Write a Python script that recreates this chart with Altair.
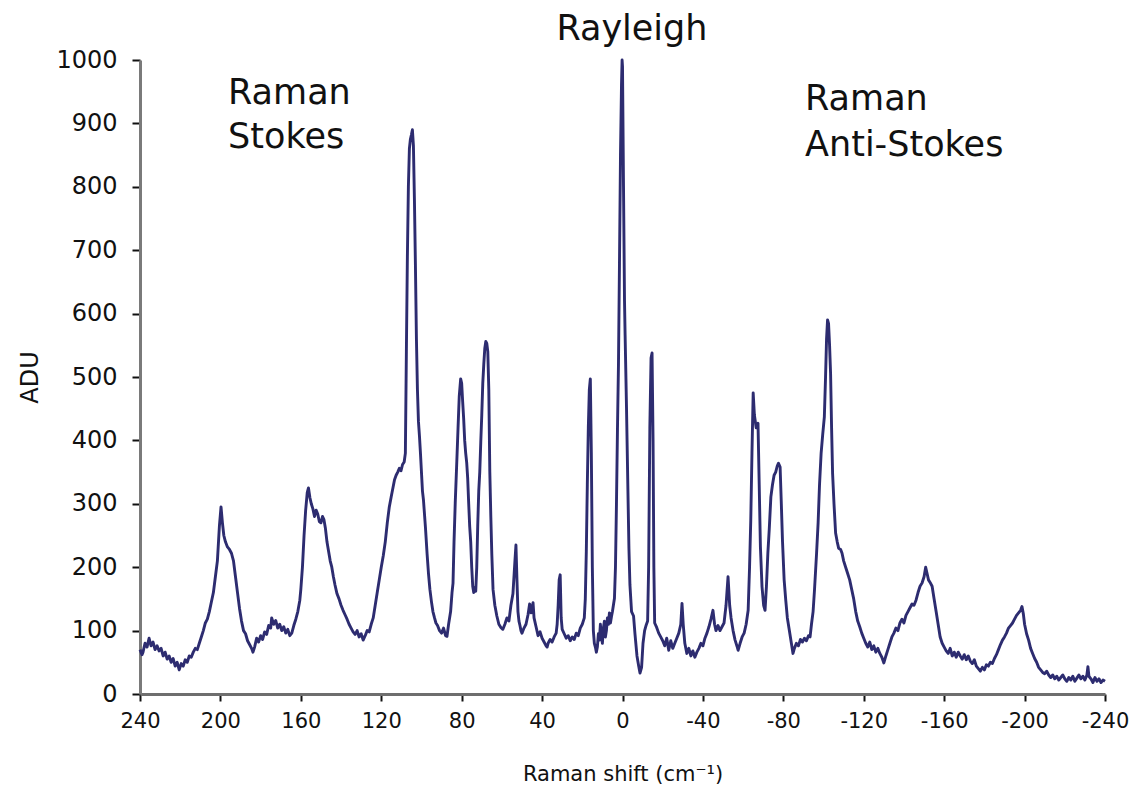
import altair as alt
import pandas as pd

# (Raman shift cm-1, ADU)
stokes_far = [
    (240, 70), (239, 62), (238.5, 66), (237.5, 80), (236.5, 74), (235.5, 88), (234.5, 76),
    (233.5, 82), (232.5, 70), (231.5, 76), (230.5, 68), (229.5, 72), (228.5, 60), (227.5, 66),
    (226.5, 55), (225.5, 60), (224.5, 50), (223.5, 56), (222.5, 44), (221.5, 50), (220.5, 38),
    (219.5, 48), (218.5, 44), (217.5, 54), (216.5, 50), (215.5, 60), (214.5, 58), (213.5, 66),
    (212.5, 72), (211.5, 70), (210.5, 80), (209.5, 90), (208.5, 100), (207.5, 112), (206.5, 118),
    (205.5, 130), (204.5, 145), (203.5, 160), (202.5, 185), (201.5, 210), (200.5, 265), (199.7, 295),
    (199, 270), (198.3, 250), (197.5, 240), (196.5, 232), (195.5, 228), (194.5, 222), (193.5, 210),
    (192.5, 185), (191.5, 160), (190.5, 135), (189.5, 115), (188.5, 100), (187.5, 95), (186.5, 84),
    (185.5, 78), (184.5, 72), (183.8, 66), (183, 74), (182, 88), (181, 82), (180, 92), (179, 86),
    (178, 98), (177, 94), (176, 108), (175, 104), (174.5, 120), (173.5, 110), (172.5, 116),
    (171.5, 104), (170.5, 110), (169.5, 100), (168.5, 106), (167.5, 96), (166.5, 102), (165.5, 92),
    (164.5, 96), (163.5, 108), (162.5, 118), (161.5, 130), (160.5, 148), (160, 165), (159.2, 200),
    (158.4, 250), (157.6, 290), (156.8, 318), (156.2, 325), (155.5, 310), (154.8, 300), (154, 292),
    (153.2, 280), (152.4, 290), (151.6, 284), (150.8, 272), (150, 270), (149.2, 280), (148.5, 275),
    (147.8, 262), (147, 240), (146.2, 225), (145.4, 210), (144.6, 200), (143.8, 185), (143, 172),
    (142, 158), (141, 150), (140, 140), (139, 132), (138, 125), (137, 118), (136, 110), (135, 104),
    (134, 98), (133, 94), (132, 100), (131, 90), (130, 95), (129, 85), (128, 92), (127, 100),
    (126, 98), (125, 110), (124, 120), (123, 140), (122, 160), (121, 180), (120, 200), (119, 218),
    (118, 240), (117, 270), (116, 295), (115, 312), (114.2, 325), (113.4, 338), (112.6, 345),
    (111.8, 350), (111, 356), (110.2, 352), (109.4, 362), (108.6, 366),
]

stokes_near = [
    (108, 380), (107.5, 540), (107, 690), (106.5, 800), (106, 860), (105.5, 875), (105, 882),
    (104.5, 890), (104, 865), (103.5, 780), (103, 676), (102.5, 560), (102, 480), (101.5, 430),
    (101, 407), (100.5, 380), (100, 350), (99.5, 320), (99, 306), (98, 262), (97.2, 221),
    (96.5, 190), (95.8, 165), (95, 145), (94.3, 130), (93.5, 120), (92.8, 112), (92, 108),
    (91, 100), (90, 96), (89, 104), (88, 92), (87.3, 91), (86.5, 110), (85.5, 130), (84.8, 160),
    (84.3, 175), (83.8, 240), (83.2, 301), (82.5, 360), (81.8, 420), (81.2, 470), (80.5, 497),
    (80, 490), (79.5, 461), (79, 434), (78.5, 400), (78, 380), (77.5, 365), (77, 340), (76.5, 300),
    (76, 264), (75.5, 240), (75, 200), (74.5, 170), (74, 160), (73.5, 168), (73, 162), (72.5, 200),
    (72, 267), (71.5, 320), (71, 350), (70.5, 397), (70, 440), (69.5, 490), (69, 520), (68.5, 545),
    (68, 556), (67.5, 553), (67, 540), (66.5, 480), (66, 350), (65.5, 280), (65, 220), (64.4, 165),
    (63.5, 140), (62.5, 123), (61.5, 110), (60.5, 105), (59.5, 102), (58.5, 110), (57.5, 120),
    (56.5, 115), (55.5, 140), (54.5, 158), (53.5, 210), (53, 235), (52.5, 180), (52, 130),
    (51.5, 115), (51, 108), (50.5, 100), (50, 96), (49, 104), (48, 110), (47, 125), (46.2, 142),
    (45.5, 128), (44.5, 144), (44, 120), (43, 106), (42, 92), (41, 98), (40, 88), (39, 82),
    (38, 76), (37.5, 74), (37, 80), (36, 86), (35, 82), (34, 90), (33, 96), (32.5, 110), (32, 140),
    (31.5, 180), (31, 188), (30.5, 120), (30, 102), (29, 95), (28, 88), (27, 92), (26, 84),
    (25, 90), (24, 86), (23, 96), (22, 92), (21, 104), (20, 110), (19, 120), (18.5, 150),
    (18, 225), (17.5, 330), (17, 420), (16.5, 480), (16, 497), (15.5, 380), (15, 200), (14.5, 100),
    (14, 80), (13.5, 74), (13, 66), (12.5, 74), (12, 95), (11.5, 85), (11, 110), (10.5, 92),
    (10, 80), (9.5, 104), (9, 115), (8.5, 90), (8, 100), (7.5, 120), (7, 110), (6.5, 128),
    (6, 112), (5.5, 122), (5, 130),
]

rayleigh = [
    (4, 151), (3.5, 200), (3, 300), (2.5, 418), (2, 520), (1.5, 680), (1, 850), (0.5, 960),
    (0.2, 1000), (0, 990), (-0.5, 800), (-1, 620), (-1.3, 566), (-2, 450), (-2.7, 320),
    (-3.2, 230), (-3.7, 172), (-4.5, 130), (-5.5, 123), (-6.2, 95), (-7.2, 60), (-8, 45),
    (-8.7, 33), (-9.5, 42), (-10.2, 80), (-11, 100), (-11.8, 109), (-12.5, 115),
]

anti_near = [
    (-13, 200), (-13.6, 420), (-14.2, 530), (-14.7, 538), (-15.2, 400), (-15.6, 200), (-16, 112),
    (-17, 105), (-18, 96), (-19, 90), (-20, 84), (-21, 76), (-22, 88), (-23, 69), (-24, 84),
    (-25, 72), (-26, 80), (-27, 88), (-28, 96), (-29, 110), (-29.6, 143), (-30.2, 110), (-31, 80),
    (-32, 64), (-33, 72), (-34, 60), (-35, 68), (-36, 58), (-37, 66), (-38, 72), (-39, 80),
    (-40, 76), (-41, 88), (-42, 96), (-43, 106), (-44, 118), (-45, 132), (-45.8, 110),
    (-46.5, 100), (-47.5, 108), (-48.5, 100), (-49.5, 106), (-50.5, 112), (-51.5, 140),
    (-52.5, 185), (-53.3, 140), (-54, 120), (-55, 100), (-56, 85), (-57, 75), (-57.5, 69),
    (-58.5, 80), (-59.5, 90), (-60.5, 96), (-61.5, 110), (-62.5, 132), (-63.2, 200), (-63.8, 274),
    (-64.4, 380), (-65, 475), (-65.6, 440), (-66.5, 420), (-67.4, 427), (-68, 330), (-68.6, 232),
    (-69.4, 169), (-70.2, 140), (-70.9, 132), (-71.6, 170), (-72.3, 222), (-73, 260), (-73.8, 311),
    (-74.6, 330), (-75.4, 345), (-76.2, 350), (-77, 360), (-77.6, 364), (-78.4, 358), (-79, 300),
    (-79.6, 240), (-80.4, 180), (-81.2, 148), (-82, 120), (-83, 100), (-84, 80), (-84.8, 64),
    (-85.5, 72), (-86.5, 80), (-87.5, 76), (-88.5, 86), (-89.5, 82), (-90.5, 88), (-91.5, 84),
    (-92.5, 92), (-93.3, 90), (-94, 110), (-94.8, 130), (-95.5, 164), (-96.5, 220), (-97.3, 270),
    (-98, 330), (-98.8, 380), (-99.6, 410), (-100.4, 437), (-101, 500), (-101.5, 560), (-102, 590),
    (-102.5, 584), (-103, 550), (-103.5, 506), (-104, 420), (-104.5, 348), (-105.2, 300),
    (-106, 254), (-106.8, 240), (-107.5, 230), (-108.5, 228), (-109.2, 222), (-110, 210),
]

anti_far = [
    (-111, 200), (-112, 190), (-113, 180), (-114, 165), (-115, 150), (-116, 130), (-117, 115),
    (-118, 106), (-119, 96), (-120, 88), (-121, 80), (-122, 74), (-123, 82), (-124, 70), (-125, 76),
    (-126, 66), (-127, 72), (-128, 64), (-129, 58), (-130, 49), (-131, 60), (-132, 70), (-133, 80),
    (-134, 90), (-135, 96), (-136, 104), (-137, 100), (-138, 112), (-139, 118), (-140, 112),
    (-141, 124), (-142, 130), (-143, 136), (-144, 142), (-145, 140), (-146, 148), (-147, 160),
    (-148, 170), (-149, 175), (-150, 185), (-150.8, 200), (-151.5, 190), (-152.2, 180), (-153, 176),
    (-154, 170), (-155, 150), (-156, 130), (-157, 110), (-158, 90), (-159, 80), (-160, 74),
    (-161, 68), (-162, 64), (-163, 72), (-164, 60), (-165, 66), (-166, 58), (-167, 66), (-168, 60),
    (-169, 55), (-170, 62), (-171, 54), (-172, 60), (-173, 52), (-174, 48), (-175, 54), (-176, 44),
    (-177, 40), (-178, 36), (-179, 42), (-180, 38), (-181, 46), (-182, 44), (-183, 50), (-184, 48),
    (-185, 56), (-186, 62), (-187, 70), (-188, 78), (-189, 85), (-190, 90), (-191, 96), (-192, 104),
    (-193, 108), (-194, 112), (-195, 118), (-196, 124), (-197, 128), (-198, 132), (-198.7, 138),
    (-199.4, 126), (-200, 110), (-201, 95), (-202, 85), (-203, 72), (-204, 64), (-205, 56),
    (-206, 50), (-207, 42), (-208, 38), (-209, 34), (-210, 32), (-211, 36), (-212, 30), (-213, 26),
    (-214, 30), (-215, 24), (-216, 28), (-217, 22), (-218, 26), (-219, 30), (-220, 24), (-221, 20),
    (-222, 26), (-223, 22), (-224, 28), (-225, 20), (-226, 25), (-227, 30), (-228, 24), (-229, 28),
    (-230, 22), (-231, 30), (-231.5, 43), (-232, 28), (-233, 24), (-234, 18), (-235, 26),
    (-236, 20), (-237, 24), (-238, 18), (-239, 22), (-240, 20),
]

x_ticks = [240, 200, 160, 120, 80, 40, 0, -40, -80, -120, -160, -200, -240]
y_ticks = [0, 100, 200, 300, 400, 500, 600, 700, 800, 900, 1000]

label_text = ["Raman", "Stokes", "Rayleigh", "Raman", "Anti-Stokes"]
label_shift = [196.2, 196.2, -4.7, -90.8, -90.8]
label_adu = [930, 861, 1031, 921, 848]
label_align = ["left", "left", "center", "left", "left"]

points = stokes_far + stokes_near + rayleigh + anti_near + anti_far
df = pd.DataFrame(points, columns=["shift", "adu"])
labels = pd.DataFrame({"text": label_text, "shift": label_shift, "adu": label_adu, "align": label_align})

xscale = alt.Scale(domain=[-240, 240], reverse=True, nice=False, zero=False)
yscale = alt.Scale(domain=[0, 1000], nice=False)

line = alt.Chart(df).mark_line(color="#2d2c70", strokeWidth=2.9, strokeJoin="round").encode(
    x=alt.X("shift:Q", scale=xscale,
            axis=alt.Axis(values=x_ticks, title="Raman shift (cm⁻¹)", grid=False,
                          labelExpr="datum.value + ''", labelFontSize=21, labelPadding=9,
                          labelFlush=False, labelOverlap=False,
                          tickSize=7, tickColor="#111111", tickWidth=2,
                          domainColor="#6e6e6e", domainWidth=3,
                          labelColor="#111111", labelFont="DejaVu Sans",
                          titleFont="DejaVu Sans", titleFontSize=21, titleFontWeight="normal",
                          titleColor="#111111", titlePadding=32)),
    y=alt.Y("adu:Q", scale=yscale,
            axis=alt.Axis(values=y_ticks, title="ADU", grid=False, format="d",
                          labelFontSize=24, labelFlush=False, labelOverlap=False,
                          labelPadding=15, tickSize=8, tickColor="#111111", tickWidth=2,
                          domainColor="#7a7a7a", domainWidth=3, labelColor="#111111",
                          labelFont="DejaVu Sans", titleFont="DejaVu Sans", titleFontSize=24,
                          titleFontWeight="normal", titleColor="#111111",
                          titleX=-110, titleY=317, titleAngle=270, titleAlign="center",
                          titleBaseline="middle")),
)

left_labels = alt.Chart(labels[labels["align"] == "left"]).mark_text(
    align="left", baseline="alphabetic", font="DejaVu Sans", fontSize=35, color="#111111"
).encode(x=alt.X("shift:Q", scale=xscale), y=alt.Y("adu:Q", scale=yscale), text="text:N")

center_labels = alt.Chart(labels[labels["align"] == "center"]).mark_text(
    align="center", baseline="alphabetic", font="DejaVu Sans", fontSize=35, color="#111111"
).encode(x=alt.X("shift:Q", scale=xscale), y=alt.Y("adu:Q", scale=yscale), text="text:N")

chart = alt.layer(line, left_labels, center_labels).properties(
    width=965, height=634,
    padding={"left": 140, "top": 60, "right": 33, "bottom": 103},
    autosize="none",
    background="white",
).configure_view(stroke=None)

chart.save("out.html", embed_options={"renderer": "svg", "actions": False})
